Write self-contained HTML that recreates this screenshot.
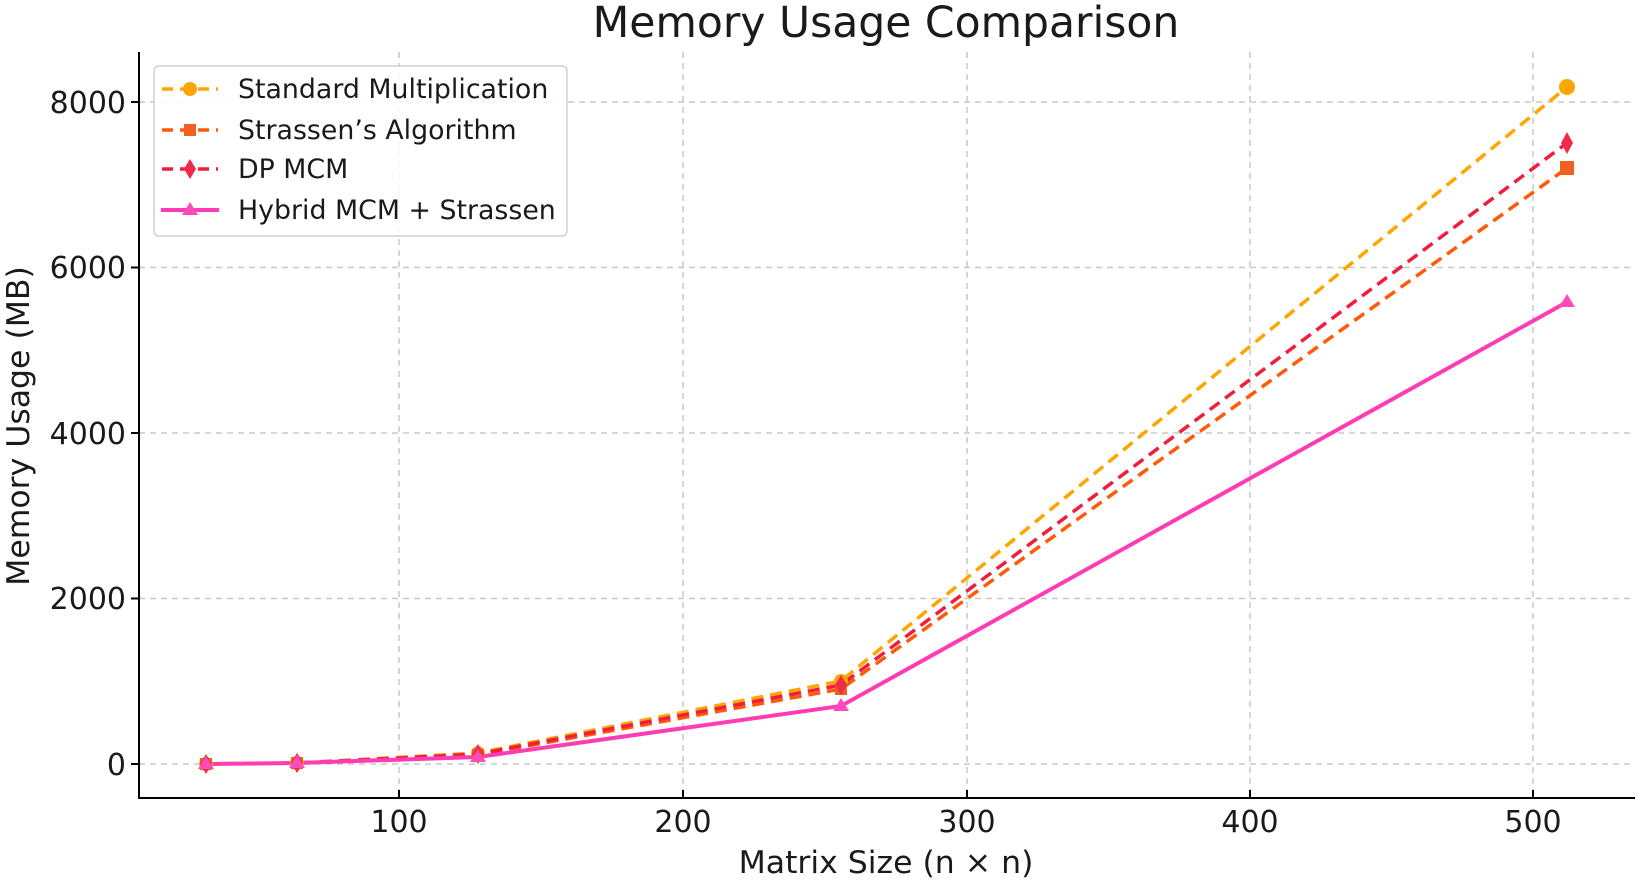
<!DOCTYPE html>
<html><head><style>body{margin:0;background:#fff}svg{display:block}text{font-family:"DejaVu Sans","Liberation Sans",sans-serif;fill:#1a1a1a}</style></head>
<body>
<svg width="1638" height="880" viewBox="0 0 1638 880">
<text x="886" y="37" font-size="42.5" text-anchor="middle">Memory Usage Comparison</text>
<g stroke="#c8c8c8" stroke-width="1.5" stroke-dasharray="6,5">
<line x1="399" y1="52" x2="399" y2="798"/><line x1="683" y1="52" x2="683" y2="798"/><line x1="967" y1="52" x2="967" y2="798"/><line x1="1250" y1="52" x2="1250" y2="798"/><line x1="1533" y1="52" x2="1533" y2="798"/>
<line x1="139" y1="764" x2="1635" y2="764"/><line x1="139" y1="598.5" x2="1635" y2="598.5"/><line x1="139" y1="433" x2="1635" y2="433"/><line x1="139" y1="267.5" x2="1635" y2="267.5"/><line x1="139" y1="102" x2="1635" y2="102"/>
</g>
<g stroke="#000" stroke-width="2">
<line x1="139" y1="52" x2="139" y2="799"/><line x1="138" y1="798" x2="1635" y2="798"/>
<line x1="131" y1="764" x2="139" y2="764"/><line x1="131" y1="598.5" x2="139" y2="598.5"/><line x1="131" y1="433" x2="139" y2="433"/><line x1="131" y1="267.5" x2="139" y2="267.5"/><line x1="131" y1="102" x2="139" y2="102"/>
<line x1="399" y1="790" x2="399" y2="798"/><line x1="683" y1="790" x2="683" y2="798"/><line x1="967" y1="790" x2="967" y2="798"/><line x1="1250" y1="790" x2="1250" y2="798"/><line x1="1533" y1="790" x2="1533" y2="798"/>
</g>
<g font-size="30" text-anchor="end">
<text x="126" y="775">0</text><text x="126" y="609">2000</text><text x="126" y="444">4000</text><text x="126" y="278">6000</text><text x="126" y="113">8000</text>
</g>
<g font-size="30" text-anchor="middle">
<text x="399" y="832">100</text><text x="683" y="832">200</text><text x="967" y="832">300</text><text x="1250" y="832">400</text><text x="1533" y="832">500</text>
</g>
<g font-size="31.5" text-anchor="middle">
<text x="886" y="873">Matrix Size (n × n)</text>
<text transform="translate(29,426) rotate(-90)">Memory Usage (MB)</text>
</g>
<polyline fill="none" stroke="#ffa500" stroke-width="3.5" stroke-dasharray="12,7" points="206,764 297,763 478,753 841,681 1567,87"/>
<polyline fill="none" stroke="#ff5a0a" stroke-width="3.5" stroke-dasharray="12,7" points="206,764 297,763 478,755 841,689 1567,168"/>
<polyline fill="none" stroke="#f01e3c" stroke-width="3.5" stroke-dasharray="12,7" points="206,764 297,763 478,754 841,685 1567,143"/>
<polyline fill="none" stroke="#ff3cb4" stroke-width="4" points="206,764 297,763 478,757 841,706 1567,302"/>
<g fill="#ffa500"><circle cx="206" cy="764" r="7"/><circle cx="297" cy="763" r="7"/><circle cx="478" cy="753" r="7"/><circle cx="841" cy="681" r="7"/><circle cx="1567" cy="87" r="8"/></g>
<g fill="#f06020"><rect x="200" y="758" width="12" height="12"/><rect x="291" y="757" width="12" height="12"/><rect x="472" y="749" width="12" height="12"/><rect x="835" y="683" width="12" height="12"/><rect x="1560" y="161" width="14" height="14"/></g>
<g fill="#ef2a4a"><path d="M206 754l6 10-6 10-6-10z"/><path d="M297 753l6 10-6 10-6-10z"/><path d="M478 744l6 10-6 10-6-10z"/><path d="M841 675l6 10-6 10-6-10z"/><path d="M1567 132l6 11-6 11-6-11z"/></g>
<g fill="#ff4cb8"><path d="M206 756l8 13h-16z"/><path d="M297 755l8 13h-16z"/><path d="M478 749l8 13h-16z"/><path d="M841 698l8 13h-16z"/><path d="M1567 294l8 13h-16z"/></g>
<rect x="154" y="66" width="413" height="170" rx="5" fill="#fff" fill-opacity="0.85" stroke="#d0d0d0" stroke-width="1.5"/>
<g stroke-width="3.5">
<line x1="162" y1="89" x2="218" y2="89" stroke="#ffa500" stroke-dasharray="11,7"/><circle cx="190" cy="89" r="7" fill="#ffa500"/>
<line x1="162" y1="130" x2="218" y2="130" stroke="#ff5a0a" stroke-dasharray="11,7"/><rect x="184" y="124" width="12" height="12" fill="#f06020"/>
<line x1="162" y1="169" x2="218" y2="169" stroke="#f01e3c" stroke-dasharray="11,7"/><path d="M190 159l6 10-6 10-6-10z" fill="#ef2a4a"/>
<line x1="161" y1="210" x2="219" y2="210" stroke="#ff3cb4" stroke-width="4"/><path d="M190 202l8 13h-16z" fill="#ff4cb8"/>
</g>
<g font-size="26.8">
<text x="238" y="98">Standard Multiplication</text>
<text x="238" y="139">Strassen’s Algorithm</text>
<text x="238" y="178">DP MCM</text>
<text x="238" y="219">Hybrid MCM + Strassen</text>
</g>
</svg>
</body></html>
